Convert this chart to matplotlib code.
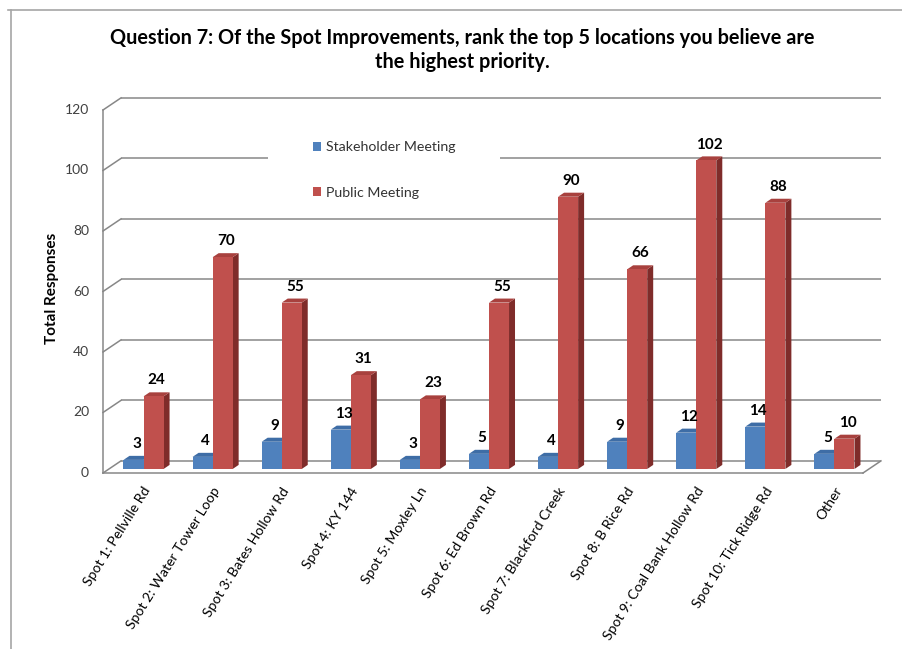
import matplotlib
matplotlib.use("Agg")
import matplotlib.pyplot as plt
from matplotlib.patches import Polygon, Rectangle, Patch
from matplotlib.lines import Line2D

# ---- data ----
categories = [
    "Spot 1: Pellville Rd",
    "Spot 2: Water Tower Loop",
    "Spot 3: Bates Hollow Rd",
    "Spot 4: KY 144",
    "Spot 5: Moxley Ln",
    "Spot 6: Ed Brown Rd",
    "Spot 7: Blackford Creek",
    "Spot 8: B Rice Rd",
    "Spot 9: Coal Bank Hollow Rd",
    "Spot 10: Tick Ridge Rd",
    "Other",
]
stakeholder = [3, 4, 9, 13, 3, 5, 4, 9, 12, 14, 5]
public = [24, 70, 55, 31, 23, 55, 90, 66, 102, 88, 10]
series_names = ["Stakeholder Meeting", "Public Meeting"]
y_ticks = [0, 20, 40, 60, 80, 100, 120]
title = ("Question 7: Of the Spot Improvements, rank the top 5 locations you believe are\n"
         "the highest priority.")
y_label = "Total Responses"

# ---- style ----
FONT = "Lato"
plt.rcParams["font.family"] = [FONT, "DejaVu Sans"]
GRID = "#878787"
FRONT = {"blue": "#4F81BD", "red": "#C0504D"}
TOP = {"blue": "#3E6DA6", "red": "#A8413E"}
SIDE = {"blue": "#335B8C", "red": "#7F2C2A"}

W, H = 902, 649
fig = plt.figure(figsize=(W / 100, H / 100), dpi=100)

# frame around the chart area
fig.add_artist(Line2D([8 / W, 1], [1 - 10 / H, 1 - 10 / H], transform=fig.transFigure,
                      color="#A6A6A6", lw=1.2))
fig.add_artist(Line2D([11 / W, 11 / W], [0, 1 - 10 / H], transform=fig.transFigure,
                      color="#A6A6A6", lw=1.2))

# axes spanning the front plane of the 3-D box
left_px, right_px, bottom_px, top_px = 103, 863, 473, 110
ax = fig.add_axes([left_px / W, 1 - bottom_px / H,
                   (right_px - left_px) / W, (bottom_px - top_px) / H])
n = len(categories)
ax.set_xlim(-0.5, n - 0.5)
ax.set_ylim(0, 120)
ax.axis("off")

# depth of the box in data units
DX, DY = 0.26, 4.0
x0, x1 = -0.5, n - 0.5

# back-wall and side-wall gridlines
for v in y_ticks:
    ax.plot([x0 + DX, x1 + DX], [v + DY, v + DY], color=GRID, lw=1.1,
            clip_on=False, zorder=1, solid_capstyle="butt")
    ax.plot([x0, x0 + DX], [v, v + DY], color=GRID, lw=1.1, clip_on=False, zorder=1)
    ax.annotate(str(v), xy=(x0, v), xytext=(-10, 0), textcoords="offset points",
                ha="right", va="center", fontsize=10, color="#404040")
# side wall front edge
ax.plot([x0, x0], [0, 120], color=GRID, lw=1.1, clip_on=False, zorder=1)
# floor
ax.plot([x0, x1], [0, 0], color=GRID, lw=1.1, clip_on=False, zorder=1)
ax.plot([x1, x1 + DX], [0, DY], color=GRID, lw=1.1, clip_on=False, zorder=1)

# bars
BW = 0.29
F0, F1 = 1 / 3, 2 / 3


def bar3d(xl, v, key):
    xr = xl + BW
    ox0, oy0 = F0 * DX, F0 * DY
    ox1, oy1 = F1 * DX, F1 * DY
    front = Rectangle((xl + ox0, oy0), BW, v, facecolor=FRONT[key], edgecolor="none",
                      zorder=3, clip_on=False)
    top = Polygon([(xl + ox0, v + oy0), (xr + ox0, v + oy0),
                   (xr + ox1, v + oy1), (xl + ox1, v + oy1)],
                  closed=True, facecolor=TOP[key], edgecolor="none", zorder=3, clip_on=False)
    side = Polygon([(xr + ox0, oy0), (xr + ox1, oy1),
                    (xr + ox1, v + oy1), (xr + ox0, v + oy0)],
                   closed=True, facecolor=SIDE[key], edgecolor="none", zorder=3, clip_on=False)
    for p in (side, top, front):
        ax.add_patch(p)
    ax.annotate(str(v), xy=(xl + BW / 2 + (ox0 + ox1) / 2, v + (oy0 + oy1) / 2),
                xytext=(0, 10), textcoords="offset points", ha="center", va="center",
                fontsize=11, fontweight="bold", color="black", zorder=5)


for i in range(n):
    bar3d(i - BW, stakeholder[i], "blue")
    bar3d(i, public[i], "red")

# category labels
for i, lab in enumerate(categories):
    ax.annotate(lab, xy=(i, 0), xytext=(7.5, -11), textcoords="offset points",
                rotation=58, rotation_mode="anchor", ha="right", va="center",
                fontsize=10.1, color="black")

# axis title
fig.text(52 / W, 1 - 288 / H, y_label, rotation=90, ha="center", va="center",
         fontsize=11, fontweight="bold", color="black")

# chart title
fig.text(462 / W, 1 - 50 / H, title, ha="center", va="center", fontsize=14.3,
         fontweight="bold", color="black", linespacing=1.3)

# legend on a white panel over the gridlines
fig.add_artist(Rectangle((268 / W, 1 - 205 / H), 232 / W, 80 / H,
                         transform=fig.transFigure, facecolor="white",
                         edgecolor="none", zorder=2))
handles = [Patch(facecolor=FRONT["blue"], edgecolor="none"),
           Patch(facecolor=FRONT["red"], edgecolor="none")]
leg = fig.legend(handles, series_names, loc="center left",
                 bbox_to_anchor=(300 / W, 1 - 170 / H), frameon=False,
                 fontsize=10.2, handlelength=0.6, handleheight=0.6,
                 handletextpad=0.35, labelspacing=2.35)
for t in leg.get_texts():
    t.set_color("#333333")

fig.savefig("out.png", dpi=100, facecolor="white")
